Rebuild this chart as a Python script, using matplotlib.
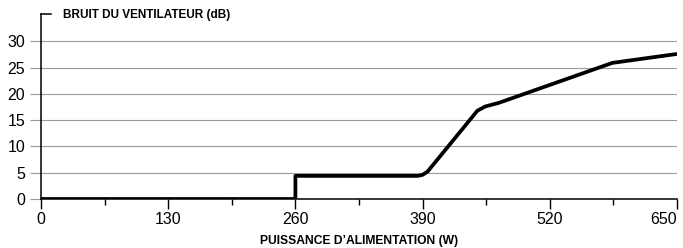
import matplotlib
matplotlib.use("Agg")
import matplotlib.pyplot as plt
from matplotlib.ticker import MultipleLocator

plt.rcParams['font.family'] = ['Liberation Sans', 'DejaVu Sans']

# --- data ---
power_w = [0, 260, 260, 385, 390, 395, 446, 454, 468, 584, 650]
noise_db = [0, 0, 4.4, 4.4, 4.6, 5.2, 16.8, 17.6, 18.3, 25.9, 27.6]
x_ticks = [0, 130, 260, 390, 520, 650]
y_ticks = [0, 5, 10, 15, 20, 25, 30]

fig = plt.figure(figsize=(6.83, 2.48), dpi=100)
ax = fig.add_axes([41 / 683, 49 / 248, 636 / 683, 185 / 248])

ax.plot(power_w, noise_db, color='black', lw=2.7, solid_joinstyle='round',
        solid_capstyle='butt', zorder=3)

ax.set_xlim(0, 650)
ax.set_ylim(0, 35.2)
ax.set_xticks(x_ticks)
ax.xaxis.set_minor_locator(MultipleLocator(65))
ax.set_yticks(y_ticks)
ax.tick_params(axis='both', labelsize=11.5, colors='black')
ax.tick_params(axis='x', which='major', direction='out', length=7, width=1, pad=2)
ax.tick_params(axis='x', which='minor', direction='out', length=4, width=1)
ax.tick_params(axis='y', which='major', direction='out', length=8, width=0.8,
               color='#9a9a9a', pad=3.5)
ax.yaxis.get_major_ticks()[0].tick1line.set_color('black')
# last x label sits left of its tick so it stays inside the picture
ax.get_xticklabels()[-1].set_horizontalalignment('right')
ax.get_xticklabels()[-1].set_x(650)

ax.grid(axis='y', color='#9a9a9a', lw=0.8)
ax.set_axisbelow(True)
for s in ['top', 'right']:
    ax.spines[s].set_visible(False)
for s in ['left', 'bottom']:
    ax.spines[s].set_linewidth(1.1)

# little cap at the top of the y axis
ax.plot([0, 10 / 636], [1, 1], transform=ax.transAxes, color='black',
        lw=1.1, clip_on=False)
ax.text(22 / 636, 0.995, 'BRUIT DU VENTILATEUR (dB)', transform=ax.transAxes,
        fontsize=8.5, fontweight='bold', va='center', ha='left')
ax.set_xlabel("PUISSANCE D\u2019ALIMENTATION (W)", fontsize=8.7,
              fontweight='bold', labelpad=6)

fig.savefig('out.png', dpi=100)
